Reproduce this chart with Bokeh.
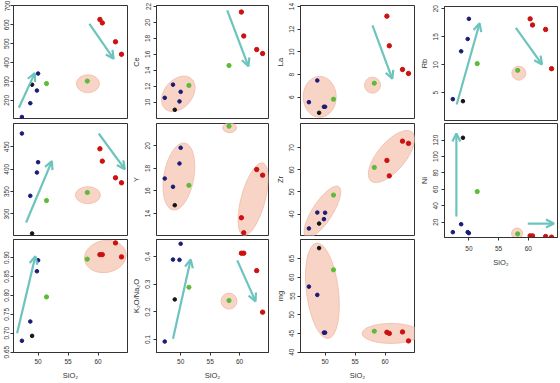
from bokeh.plotting import figure
from bokeh.layouts import row, column
from bokeh.models import Range1d, FixedTicker, Arrow, OpenHead, NumeralTickFormatter
from bokeh.embed import file_html
from bokeh.resources import INLINE

# ---------------- data ----------------
# SiO2 of the 11 samples: 5 mafic, 2 intermediate, 4 felsic
sio2 = [47.3, 48.7, 49.0, 49.8, 50.0, 51.4, 58.2, 60.3, 60.7, 62.9, 63.9]
# values per panel, same sample order
top_left = [112, 185, 283, 252, 342, 289, 302, 628, 610, 510, 444]      # label cropped in source
ce = [10.55, 12.2, 9.05, 10.1, 11.3, 12.1, 14.6, 21.3, 18.3, 16.6, 16.1]
la = [5.57, 7.48, 4.63, 5.16, 5.16, 5.83, 7.24, 13.15, 10.54, 8.45, 8.1]
rb = [3.86, 12.4, 3.5, 14.6, 18.2, 10.2, 9.0, 18.2, 17.1, 16.3, 9.3]
mid_left = [479.7, 340.6, 256.5, 392.6, 415.6, 330, 348, 445.5, 418, 380.8, 369.6]  # label cropped
y_ppm = [17.1, 16.37, 14.74, 18.43, 19.82, 16.5, 21.73, 13.63, 12.3, 17.9, 17.4]
zr = [33.5, 40.7, 35.7, 37.7, 40.6, 48.6, 61.1, 64.3, 57.3, 73.0, 72.0]
ni = [7.8, 17.5, 122.9, 7.8, 6.6, 57.3, 5.7, 3.3, 3.3, 2.5, 1.7]
bottom_left = [0.680, 0.731, 0.693, 0.864, 0.893, 0.796, 0.896, 0.908, 0.908, 0.939, 0.902]  # label cropped
k2o_na2o = [0.093, 0.389, 0.245, 0.388, 0.446, 0.289, 0.241, 0.412, 0.412, 0.349, 0.199]
mg = [57.5, 55.3, 67.8, 45.2, 45.2, 62.0, 45.6, 45.3, 45.0, 45.4, 43.0]

x_ticks = [50, 55, 60]

# ---------------- styles ----------------
NAVY, BLACK, GREEN, RED = "#1b1b78", "#151515", "#5cbb38", "#cc1111"
point_colors = [NAVY, NAVY, BLACK, NAVY, NAVY, GREEN, GREEN, RED, RED, RED, RED]
point_sizes = [3.6, 3.6, 3.6, 3.6, 3.6, 4.2, 4.2, 4.4, 4.4, 4.4, 4.4]
TEAL = "#6cc4bd"
ELL_FILL, ELL_LINE = "#f7cfc0", "#f0bba6"
AX = "#333333"
FONT = "Liberation Sans"
X_RANGE = (45.9, 64.9)


def panel(vals, yr, yticks, w, h, bl, br, bt, bb, ylabel=None, xlabel=None,
          xlabels=False, fmt=None, ellipses=(), arrows=(), ystand=3, ytick_out=3, xstand=3):
    p = figure(width=w, height=h, x_range=Range1d(*X_RANGE), y_range=Range1d(*yr),
               output_backend="svg", toolbar_location=None,
               min_border_left=bl, min_border_right=br,
               min_border_top=bt, min_border_bottom=bb)
    p.grid.visible = False
    p.outline_line_color = AX
    p.outline_line_width = 1
    for ax in p.axis:
        ax.axis_line_color = AX
        ax.major_tick_in = 0
        ax.major_tick_out = 3
        ax.minor_tick_in = 0
        ax.minor_tick_out = 0
        ax.major_tick_line_color = AX
        ax.major_label_text_font = FONT
        ax.major_label_text_font_size = "6.5px"
        ax.major_label_text_color = AX
        ax.axis_label_text_font = FONT
        ax.axis_label_text_font_size = "7.5px"
        ax.axis_label_text_font_style = "normal"
        ax.axis_label_text_color = AX
    p.xaxis.ticker = FixedTicker(ticks=x_ticks)
    p.yaxis.ticker = FixedTicker(ticks=yticks)
    p.yaxis.major_label_orientation = "vertical"
    p.yaxis.major_label_standoff = ystand
    p.yaxis.major_tick_out = ytick_out
    p.yaxis.axis_label_standoff = 2
    if fmt:
        p.yaxis.formatter = NumeralTickFormatter(format=fmt)
    if ylabel:
        p.yaxis.axis_label = ylabel
    if xlabels:
        p.xaxis.major_label_standoff = xstand
        p.xaxis.axis_label_standoff = 4
        if xlabel:
            p.xaxis.axis_label = xlabel
    else:
        p.xaxis.visible = False
    for (ex, ey, ew, eh, ea) in ellipses:
        p.ellipse(x=[ex], y=[ey], width=[ew], height=[eh], angle=[ea],
                  width_units="screen", height_units="screen", angle_units="deg",
                  fill_color=ELL_FILL, fill_alpha=0.9, line_color=ELL_LINE, line_width=0.8)
    for (x0, y0, x1, y1) in arrows:
        p.add_layout(Arrow(end=OpenHead(size=8, line_color=TEAL, line_width=2.2),
                           x_start=x0, y_start=y0, x_end=x1, y_end=y1,
                           line_color=TEAL, line_width=2.2))
    p.scatter(x=sio2, y=vals, size=point_sizes, marker="circle", color=point_colors)
    return p


# column geometry: (width, border_left, border_right)
C1, C2, C3, C4 = (128, 13, 1), (143, 26, 3), (145, 29, 2), (144, 27, 3)
R1, R2, R3 = (121, 5, 3), (116, 2, 2), (146, 2, 31)

p1 = panel(top_left, (104, 702), [200, 300, 400, 500, 600, 700], C1[0], R1[0], C1[1], C1[2], R1[1], R1[2],
           ystand=1, ellipses=[(58.3, 288, 23, 18, 0)],
           arrows=[(46.8, 161, 49.45, 344), (58.55, 605, 62.6, 420)])
p2 = panel(ce, (7.96, 22.12), [10, 12, 14, 16, 18, 20, 22], C2[0], R1[0], C2[1], C2[2], R1[1], R1[2],
           ylabel="Ce", ellipses=[(49.6, 11.05, 40, 28, 50)],
           arrows=[(57.9, 21.5, 61.5, 14.5)])
p3 = panel(la, (4.13, 14.09), [6, 8, 10, 12, 14], C3[0], R1[0], C3[1], C3[2], R1[1], R1[2],
           ylabel="La", ellipses=[(49.1, 6.04, 33, 41, 0), (57.9, 7.07, 16, 16, 0)],
           arrows=[(57.9, 12.33, 61.2, 7.63)])
p4 = panel(rb, (0.05, 20.4), [5, 10, 15, 20], C4[0], 121, C4[1], C4[2], 6, 1,
           ylabel="Rb", ellipses=[(58.4, 8.5, 14, 14, 0)],
           arrows=[(47.95, 2.9, 51.8, 17.4), (57.9, 16.6, 62.3, 10.05)])

p5 = panel(mid_left, (252, 502), [300, 350, 400, 450], C1[0], R2[0], C1[1], C1[2], R2[1], R2[2],
           ystand=1, ellipses=[(58.3, 342, 25, 17, 0)],
           arrows=[(48.0, 281, 52.3, 418), (60.1, 479.7, 64.45, 400)])
p6 = panel(y_ppm, (12.06, 21.97), [14, 16, 18, 20], C2[0], R2[0], C2[1], C2[2], R2[1], R2[2],
           ylabel="Y", ellipses=[(49.7, 17.28, 68, 30, 80), (58.3, 21.6, 14, 10, 0),
                                 (62.3, 15.27, 75, 24, 75)])
p7 = panel(zr, (30.3, 81), [40, 50, 60, 70], C3[0], R2[0], C3[1], C3[2], R2[1], R2[2],
           ylabel="Zr", ellipses=[(49.55, 41.0, 60, 20, 57), (61.07, 66.05, 64, 28, 50)])
p8 = panel(ni, (1.3, 140.3), [20, 40, 60, 80, 100, 120], C4[0], 150, C4[1], C4[2], 2, 34,
           ylabel="Ni", xlabel="SiO₂", xlabels=True, xstand=5,
           ellipses=[(58.1, 6.2, 11, 11, 0)],
           arrows=[(47.9, 26.9, 47.9, 128), (59.9, 18.3, 64.3, 18.3)])

p9 = panel(bottom_left, (0.649, 0.948), [0.65, 0.70, 0.75, 0.80, 0.85, 0.90], C1[0], R3[0], C1[1], C1[2],
           R3[1], R3[2], fmt="0.00", xlabel="SiO₂", xlabels=True, ystand=1,
           ellipses=[(61.2, 0.903, 42, 32, 10)],
           arrows=[(46.5, 0.70, 49.55, 0.904)])
p10 = panel(k2o_na2o, (0.0534, 0.4614), [0.1, 0.2, 0.3, 0.4], C2[0], R3[0], C2[1], C2[2], R3[1], R3[2],
            ylabel="K₂O/Na₂O", fmt="0.0", xlabel="SiO₂", xlabels=True,
            ellipses=[(58.2, 0.239, 16, 16, 0)],
            arrows=[(48.7, 0.103, 51.7, 0.389), (59.6, 0.386, 62.7, 0.238)])
p11 = panel(mg, (39.9, 70.1), [40, 45, 50, 55, 60, 65], C3[0], R3[0], C3[1], C3[2], R3[1], R3[2],
            ylabel="mg", xlabel="SiO₂", xlabels=True,
            ellipses=[(49.55, 56.4, 96, 32, 97), (61.0, 45.0, 58, 20, 0)])

left = column(row(p1, p2, p3, spacing=0), row(p5, p6, p7, spacing=0),
              row(p9, p10, p11, spacing=0), spacing=0)
right = column(p4, p8, spacing=0)
root = row(left, right, spacing=0)

open("out.html", "w").write(file_html(root, INLINE))
